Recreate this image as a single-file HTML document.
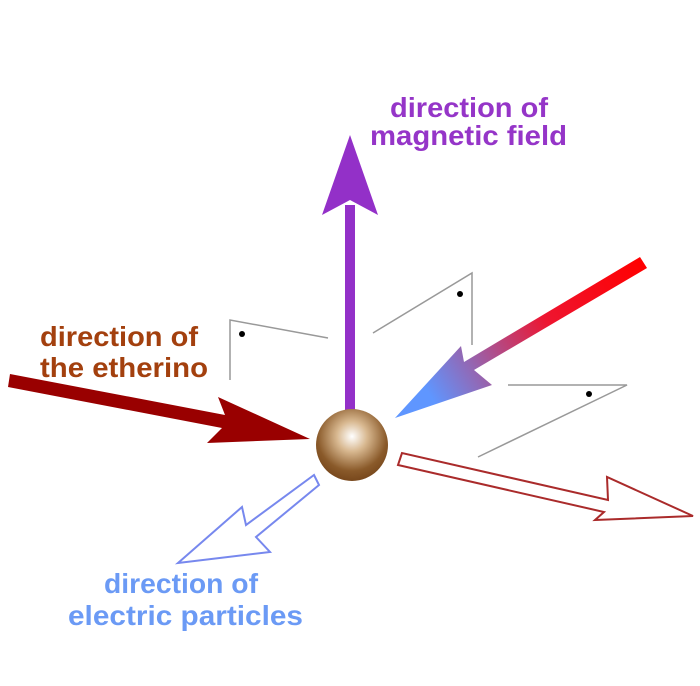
<!DOCTYPE html>
<html><head><style>
html,body{margin:0;padding:0;background:#fff;}
svg{display:block;}
text{font-family:"Liberation Sans",sans-serif;font-weight:bold;font-size:28px;}
</style></head><body>
<svg width="700" height="686" viewBox="0 0 700 686">
<defs>
<radialGradient id="ball" cx="0.5" cy="0.38" r="0.6">
<stop offset="0" stop-color="#fff"/>
<stop offset="0.35" stop-color="#d8b890"/>
<stop offset="0.8" stop-color="#8a5a2a"/>
<stop offset="1" stop-color="#7a4a1e"/>
</radialGradient>
<linearGradient id="rb" x1="643" y1="262" x2="430" y2="395" gradientUnits="userSpaceOnUse">
<stop offset="0" stop-color="#ff0000"/>
<stop offset="0.45" stop-color="#ee1530"/>
<stop offset="1" stop-color="#5f96ff"/>
</linearGradient>
</defs>
<g fill="none" stroke="#999" stroke-width="1.5">
<polyline points="230,380 230,320 328,338"/>
<polyline points="373,333 472,273 472,345"/>
<polyline points="508,385 627,385 478,457"/>
</g>
<circle cx="242" cy="334" r="3" fill="#000"/>
<circle cx="460" cy="294" r="3" fill="#000"/>
<circle cx="589" cy="394" r="3" fill="#000"/>
<rect x="345" y="205" width="10" height="225" fill="#9330c8"/>
<polygon points="350,135 378,215 350,200 322,215" fill="#9330c8"/>
<polygon points="10,374 225,415 218,397 310,439 207,443 222,428 8,387" fill="#990000"/>
<polygon points="640,257 647,268 474,370 492,385 395,418 461,346 464,362" fill="url(#rb)"/>
<circle cx="352" cy="445" r="36" fill="url(#ball)"/>
<polygon points="314,475 319,485 256,537 270,552 178,563 242,507 246,525" fill="none" stroke="#7788ee" stroke-width="2"/>
<polygon points="402,453 398,465 604,512 595,520 693,516 607,477 608,500" fill="none" stroke="#aa2b2b" stroke-width="2"/>
<text x="390" y="117" fill="#9535c8" textLength="158" lengthAdjust="spacingAndGlyphs">direction of</text>
<text x="370" y="145" fill="#9535c8" textLength="197" lengthAdjust="spacingAndGlyphs">magnetic field</text>
<text x="40" y="346" fill="#a3400e" textLength="158" lengthAdjust="spacingAndGlyphs">direction of</text>
<text x="40" y="377" fill="#a3400e" textLength="168" lengthAdjust="spacingAndGlyphs">the etherino</text>
<text x="104" y="593" fill="#6b9af5" textLength="154" lengthAdjust="spacingAndGlyphs">direction of</text>
<text x="68" y="625" fill="#6b9af5" textLength="235" lengthAdjust="spacingAndGlyphs">electric particles</text>
</svg>
</body></html>
